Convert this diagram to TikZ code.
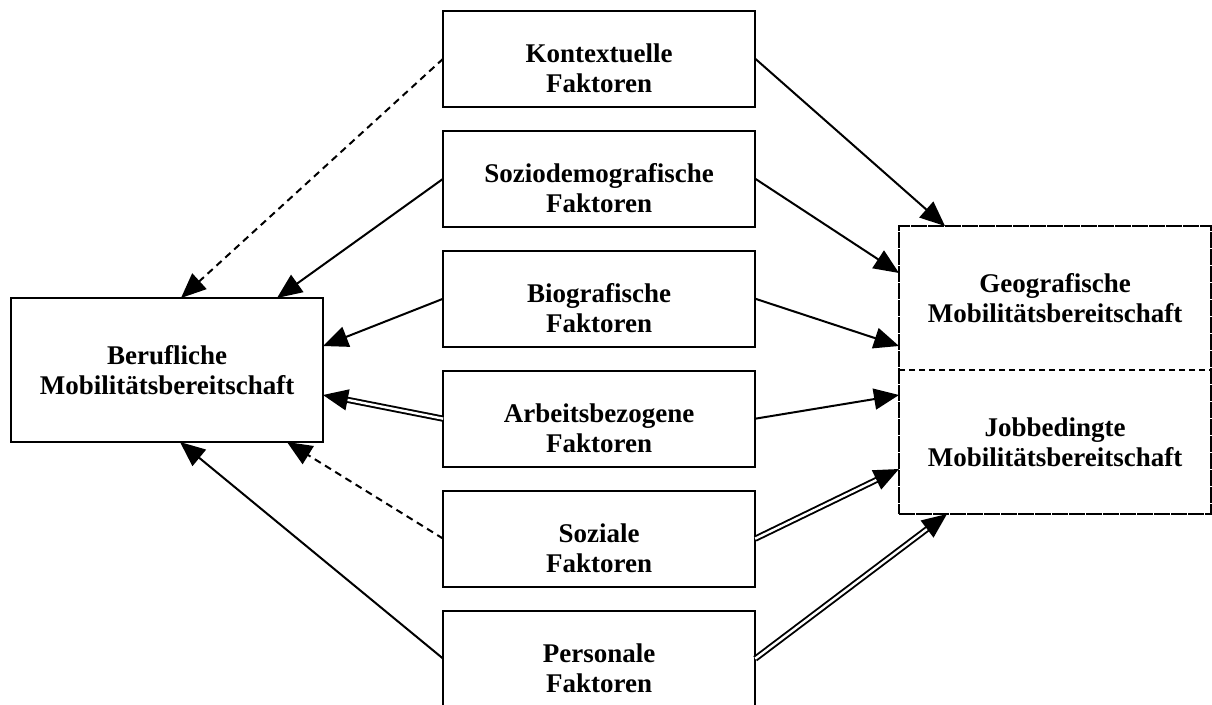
\documentclass[tikz,border=0pt]{standalone}
\usepackage{fontspec}
\setmainfont{Liberation Serif}
\usetikzlibrary{arrows.meta,calc}
\begin{document}
\begin{tikzpicture}[x=1pt,y=-1pt,
  fbox/.style={draw, line width=2.2pt, minimum width=312pt, minimum height=96pt, inner sep=0pt, outer sep=0pt},
  txt/.style={align=center, font=\bfseries\fontsize{27}{30}\selectfont, inner sep=0pt},
  tip/.style={-{Triangle[length=25pt,width=21pt]}},
  arr/.style={line width=2pt, tip},
  dasharr/.style={arr, dash pattern=on 7pt off 5pt},
  dblarr/.style={line width=1.9pt, double, double distance=2.4pt, tip},
]
\useasboundingbox (0,0) rectangle (1212,704);

% outcome boxes
\node[fbox, minimum height=144pt] (beruf) at (167,370) {};
\node[txt] at (beruf.center) {Berufliche\\Mobilitätsbereitschaft};

\node[draw, line width=2pt, dash pattern=on 16pt off 1pt, minimum width=312pt, minimum height=288pt, inner sep=0pt, outer sep=0pt] (geo) at (1055,370) {};
\draw[line width=1.8pt, dash pattern=on 6pt off 4pt] (geo.west) -- (geo.east);
\node[txt] (geotxt) at (1055,298) {Geografische\\Mobilitätsbereitschaft};
\node[txt] (jobtxt) at (1055,442) {Jobbedingte\\Mobilitätsbereitschaft};

% factor boxes
\node[fbox] (kon) at (599.2,58.7) {};
\node[fbox] (soz) at (599.2,178.7) {};
\node[fbox] (bio) at (599.2,298.7) {};
\node[fbox] (arb) at (599.2,418.7) {};
\node[fbox] (sol) at (599.2,538.7) {};
\node[fbox] (per) at (599.2,658.7) {};
\node[txt] at ($(kon.center)+(0,9.5)$) {Kontextuelle\\Faktoren};
\node[txt] at ($(soz.center)+(0,9.5)$) {Soziodemografische\\Faktoren};
\node[txt] at ($(bio.center)+(0,9.5)$) {Biografische\\Faktoren};
\node[txt] at ($(arb.center)+(0,9.5)$) {Arbeitsbezogene\\Faktoren};
\node[txt] at ($(sol.center)+(0,9.5)$) {Soziale\\Faktoren};
\node[txt] at ($(per.center)+(0,9.5)$) {Personale\\Faktoren};

% effects on occupational mobility readiness
\draw[dasharr] (kon.west) -- ($(beruf.north west)+(170,0)$);
\draw[arr] (soz.west) -- ($(beruf.north west)+(266,0)$);
\draw[arr] (bio.west) -- ($(beruf.north east)+(0,48)$);
\draw[dblarr] (arb.west) -- ($(beruf.north east)+(0,97)$);
\draw[dasharr] (sol.west) -- ($(beruf.south west)+(276,0)$);
\draw[arr] (per.west) -- ($(beruf.south west)+(169,0)$);

% effects on geographic / job-related mobility readiness
\draw[arr] (kon.east) -- ($(geo.north west)+(46,0)$);
\draw[arr] (soz.east) -- ($(geo.north west)+(0,47)$);
\draw[arr] (bio.east) -- ($(geo.north west)+(0,120)$);
\draw[arr] (arb.east) -- ($(geo.north west)+(0,169)$);
\draw[dblarr] (sol.east) -- ($(geo.north west)+(0,243)$);
\draw[dblarr] (per.east) -- ($(geo.south west)+(48,0)$);
\end{tikzpicture}
\end{document}
